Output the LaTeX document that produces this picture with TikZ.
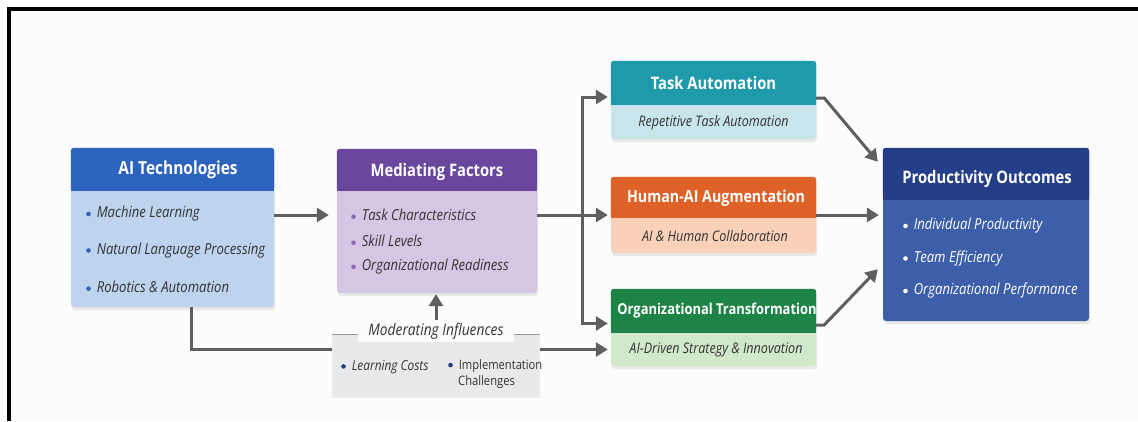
\documentclass[tikz,border=0pt]{standalone}
\usepackage{fontspec}
\setmainfont{Open Sans}[FakeStretch=0.86]
\usetikzlibrary{positioning,arrows.meta,shadows}

\definecolor{techhead}{HTML}{2C63BD}
\definecolor{techbody}{HTML}{BDD3EE}
\definecolor{medhead}{HTML}{6A469E}
\definecolor{medbody}{HTML}{D5C6E4}
\definecolor{taskhead}{HTML}{1F9AAA}
\definecolor{taskbody}{HTML}{C9E5EC}
\definecolor{aughead}{HTML}{DE6127}
\definecolor{augbody}{HTML}{F8D1B8}
\definecolor{orghead}{HTML}{1E8347}
\definecolor{orgbody}{HTML}{D2E8CB}
\definecolor{prodhead}{HTML}{243F87}
\definecolor{prodbody}{HTML}{3D5EA8}
\definecolor{modfill}{HTML}{E8E9EB}
\definecolor{arrowgray}{HTML}{5F5F5F}
\definecolor{itemtext}{HTML}{343434}
\definecolor{paper}{HTML}{FCFCFC}

% coloured strip across the top of a card: node, colour, height
\newcommand{\cardhead}[3]{%
  \fill[#2, rounded corners=3pt] (#1.north west) rectangle ([yshift=-#3]#1.north east);
  \fill[#2] ([yshift=-#3/2]#1.north west) rectangle ([yshift=-#3]#1.north east);}
% round bullet in a given colour
\newcommand{\dotin}[1]{\tikz[baseline=-4pt]\fill[#1] (0,0) circle (2.3pt);\hspace{6pt}}

\tikzset{
  card/.style={rectangle, rounded corners=3pt, fill=#1, inner sep=0pt,
    drop shadow={opacity=0.16, shadow xshift=1pt, shadow yshift=-3pt}},
  title/.style={text=white, inner sep=0pt, font=\bfseries\fontsize{17.2}{19}\selectfont},
  item/.style={anchor=west, text=itemtext, inner sep=0pt, font=\itshape\fontsize{15.2}{17}\selectfont},
  note/.style={text=itemtext, inner sep=0pt, font=\itshape\fontsize{14.6}{16}\selectfont},
  arr/.style={draw=arrowgray, line width=3pt, -{Triangle[length=12pt,width=14pt]}},
}

\begin{document}
\begin{tikzpicture}[x=1pt, y=-1pt]
\useasboundingbox (0,0) rectangle (1138,421);
\fill[paper] (11,11) rectangle (1138,421);
\draw[line width=4pt] (9,421) -- (9,9) -- (1138,9);

% AI technologies
\node[card=techbody, minimum width=203pt, minimum height=159pt] (tech) at (172.5,227.5) {};
\cardhead{tech}{techhead}{43pt}
\node[title, font=\bfseries\fontsize{18}{19}\selectfont] (techt) at (178,170) {AI Technologies};
\foreach \txt [count=\i] in {Machine Learning, Natural Language Processing, Robotics \& Automation}
  \node[item] (techi\i) at (86,{214+36.5*(\i-1)}) {\dotin{techhead}\txt};

% mediating factors
\node[card=medbody, minimum width=200pt, minimum height=144pt] (med) at (437,221) {};
\cardhead{med}{medhead}{42pt}
\node[title] (medt) at (437,172) {Mediating Factors};
\foreach \txt [count=\i] in {Task Characteristics, Skill Levels, Organizational Readiness}
  \node[item] (medi\i) at (351,{215+26*(\i-1)}) {\dotin{medhead!80}\txt};

% three pathways
\node[card=taskbody, minimum width=205pt, minimum height=78pt] (task) at (713.5,100) {};
\cardhead{task}{taskhead}{44pt}
\node[title] (taskt) at (713.5,83) {Task Automation};
\node[note] (taskn) at (713.5,123) {Repetitive Task Automation};

\node[card=augbody, minimum width=205pt, minimum height=76pt] (aug) at (713.5,215) {};
\cardhead{aug}{aughead}{41pt}
\node[title, font=\bfseries\fontsize{16.6}{18}\selectfont] (augt) at (716,198) {Human-AI Augmentation};
\node[note] (augn) at (715,236) {AI \& Human Collaboration};

\node[card=orgbody, minimum width=205pt, minimum height=77pt] (org) at (713.5,327.5) {};
\cardhead{org}{orghead}{44pt}
\node[title, font=\bfseries\fontsize{15}{17}\selectfont] (orgt) at (717,311) {Organizational Transformation};
\node[note] (orgn) at (716,350) {AI-Driven Strategy \& Innovation};

% productivity outcomes
\node[card=prodbody, minimum width=206pt, minimum height=173pt] (prod) at (986,234.5) {};
\cardhead{prod}{prodhead}{52pt}
\node[title] (prodt) at (987,179) {Productivity Outcomes};
\foreach \txt [count=\i] in {Individual Productivity, Team Efficiency, Organizational Performance}
  \node[item, text=white] (prodi\i) at (903,{226+32.5*(\i-1)}) {\dotin{white}\txt};

% connectors
\coordinate (split) at (582,215);
\draw[arr, shorten >=8pt] (tech.east |- split) -- (med.west |- split);
\draw[arr, shorten >=3pt] (med.east |- split) -- (aug.west |- split);
\draw[arr, shorten >=3pt] (split) |- ([yshift=3pt]task.west);
\draw[arr, shorten >=3pt] (split) |- ([yshift=4pt]org.west);
\draw[arr, shorten >=3pt] ([xshift=18.5pt]tech.south) |- ([yshift=-22pt]org.west);
\draw[arr] ([yshift=2pt]task.east) -- ++(8,0) -- ([xshift=-5pt,yshift=-14pt]prod.north west);
\draw[arr, shorten >=4pt] (aug.east) -- (aug.east -| prod.west);
\draw[arr] ([yshift=2.5pt]org.east) -- ++(8,0) -- ([xshift=-5pt,yshift=52pt]prod.south west);

% moderating influences
\node[fill=modfill, inner sep=0pt, minimum width=208pt, minimum height=63pt] (mod) at (436,366.5) {};
\draw[gray!80, line width=0.8pt] (mod.north west) -- (mod.north east);
\node[note, fill=paper, inner xsep=10pt, inner ysep=3pt, font=\itshape\fontsize{16}{17}\selectfont] (modt) at (436,331) {Moderating Influences};
\draw[arr, shorten >=1pt] (modt.north) -- (modt.north |- med.south);
\node[anchor=west, inner sep=0pt, text=itemtext, font=\itshape\fontsize{13.8}{15}\selectfont] (modi1) at (341,367) {\dotin{prodhead}Learning Costs};
\node[anchor=north west, inner sep=0pt, text=itemtext, align=left, font=\fontsize{13}{16}\selectfont] (modi2) at (448,359) {\dotin{prodhead}Implementation\\\hspace{10pt}Challenges};
\end{tikzpicture}
\end{document}
